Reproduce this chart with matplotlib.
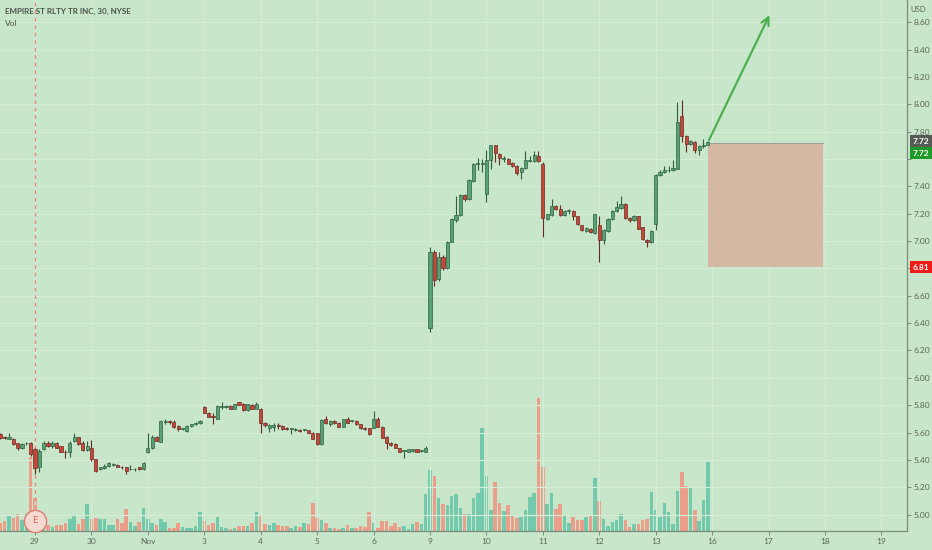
import numpy as np
import matplotlib
matplotlib.use('Agg')
import matplotlib.pyplot as plt
from matplotlib.transforms import blended_transform_factory

###############################################################################
#                                     Data                                    #
###############################################################################

# 30 minute bars, Oct 28 (last 8 bars) .. Nov 13, 13 bars per session
opens = [5.59, 5.565, 5.555, 5.55, 5.52, 5.49, 5.52, 5.52,                                      # Oct 28
         5.48, 5.345, 5.48, 5.525, 5.50, 5.52, 5.50, 5.46, 5.455, 5.535, 5.565, 5.52, 5.47,       # Oct 29
         5.49, 5.405, 5.33, 5.34, 5.355, 5.365, 5.36, 5.35, 5.345, 5.33, 5.33, 5.345, 5.33,       # Oct 30
         5.46, 5.49, 5.568, 5.533, 5.68, 5.68, 5.68, 5.648, 5.625, 5.61, 5.645, 5.66, 5.67,       # Nov 2
         5.783, 5.746, 5.72, 5.702, 5.787, 5.787, 5.795, 5.775, 5.82, 5.807, 5.765, 5.80, 5.775,  # Nov 3
         5.77, 5.673, 5.636, 5.643, 5.655, 5.648, 5.636, 5.624, 5.619, 5.619, 5.619, 5.617, 5.599,  # Nov 4
         5.594, 5.514, 5.702, 5.66, 5.685, 5.668, 5.643, 5.697, 5.685, 5.685, 5.66, 5.636, 5.631,  # Nov 5
         5.636, 5.702, 5.643, 5.57, 5.526, 5.514, 5.485, 5.465, 5.46, 5.465, 5.477, 5.465, 5.46,  # Nov 6
         6.361, 6.923, 6.72, 6.886, 6.801, 6.996, 7.15, 7.192, 7.338, 7.309, 7.438, 7.565, 7.565,  # Nov 9
         7.345, 7.59, 7.70, 7.639, 7.60, 7.602, 7.573, 7.548, 7.504, 7.534, 7.585, 7.585, 7.621,  # Nov 10
         7.56, 7.162, 7.187, 7.253, 7.236, 7.187, 7.218, 7.218, 7.18, 7.118, 7.072, 7.089, 7.057,  # Nov 11
         7.114, 7.009, 7.072, 7.162, 7.223, 7.243, 7.272, 7.167, 7.15, 7.18, 7.101, 7.009, 6.992,  # Nov 12
         7.126, 7.48, 7.504, 7.516, 7.516, 7.529, 7.912, 7.766, 7.707, 7.724, 7.668, 7.692, 7.70]  # Nov 13

highs = [5.60, 5.575, 5.595, 5.56, 5.525, 5.525, 5.53, 5.53,
         5.49, 5.48, 5.535, 5.54, 5.535, 5.53, 5.505, 5.47, 5.54, 5.60, 5.57, 5.54, 5.535,
         5.545, 5.41, 5.35, 5.37, 5.385, 5.38, 5.37, 5.355, 5.35, 5.36, 5.34, 5.35, 5.385,
         5.60, 5.58, 5.575, 5.69, 5.70, 5.695, 5.69, 5.655, 5.635, 5.655, 5.665, 5.675, 5.695,
         5.795, 5.75, 5.74, 5.80, 5.82, 5.80, 5.80, 5.81, 5.825, 5.815, 5.81, 5.81, 5.82,
         5.78, 5.68, 5.66, 5.668, 5.673, 5.655, 5.64, 5.636, 5.63, 5.625, 5.625, 5.62, 5.605,
         5.60, 5.70, 5.72, 5.69, 5.695, 5.675, 5.70, 5.71, 5.695, 5.69, 5.665, 5.64, 5.635,
         5.758, 5.71, 5.65, 5.575, 5.53, 5.52, 5.49, 5.475, 5.475, 5.48, 5.48, 5.475, 5.50,
         6.955, 6.935, 6.918, 6.895, 7.00, 7.17, 7.328, 7.345, 7.345, 7.45, 7.57, 7.607, 7.602,
         7.663, 7.705, 7.705, 7.645, 7.621, 7.61, 7.58, 7.555, 7.54, 7.656, 7.62, 7.656, 7.656,
         7.578, 7.20, 7.309, 7.26, 7.265, 7.225, 7.236, 7.225, 7.185, 7.12, 7.10, 7.095, 7.20,
         7.18, 7.085, 7.17, 7.23, 7.29, 7.326, 7.28, 7.175, 7.19, 7.185, 7.105, 7.015, 7.08,
         7.49, 7.52, 7.545, 7.55, 7.59, 8.017, 8.029, 7.775, 7.74, 7.73, 7.70, 7.748, 7.73]

lows = [5.555, 5.555, 5.55, 5.51, 5.475, 5.48, 5.51, 5.43,
        5.30, 5.31, 5.47, 5.495, 5.49, 5.485, 5.455, 5.415, 5.42, 5.53, 5.51, 5.465, 5.465,
        5.39, 5.31, 5.325, 5.335, 5.35, 5.355, 5.345, 5.335, 5.30, 5.325, 5.32, 5.325, 5.325,
        5.45, 5.48, 5.535, 5.53, 5.665, 5.665, 5.635, 5.61, 5.615, 5.605, 5.64, 5.655, 5.665,
        5.74, 5.71, 5.66, 5.70, 5.77, 5.78, 5.77, 5.77, 5.80, 5.76, 5.76, 5.77, 5.77,
        5.60, 5.64, 5.605, 5.612, 5.624, 5.62, 5.62, 5.587, 5.61, 5.605, 5.61, 5.595, 5.55,
        5.51, 5.51, 5.66, 5.65, 5.66, 5.64, 5.64, 5.67, 5.675, 5.655, 5.625, 5.62, 5.58,
        5.63, 5.64, 5.56, 5.477, 5.50, 5.485, 5.455, 5.416, 5.455, 5.46, 5.455, 5.455, 5.455,
        6.332, 6.674, 6.71, 6.785, 6.795, 6.99, 7.14, 7.185, 7.295, 7.30, 7.43, 7.516, 7.504,
        7.284, 7.53, 7.578, 7.553, 7.577, 7.56, 7.54, 7.48, 7.455, 7.53, 7.58, 7.58, 7.58,
        7.033, 7.15, 7.18, 7.23, 7.18, 7.18, 7.199, 7.15, 7.115, 7.07, 7.065, 7.06, 7.05,
        6.845, 6.98, 7.065, 7.155, 7.215, 7.235, 7.16, 7.14, 7.145, 7.085, 7.01, 6.955, 6.985,
        7.082, 7.475, 7.50, 7.505, 7.51, 7.525, 7.724, 7.65, 7.70, 7.644, 7.627, 7.68, 7.69]

closes = [5.56, 5.56, 5.565, 5.515, 5.49, 5.515, 5.52, 5.44,
          5.34, 5.465, 5.525, 5.50, 5.525, 5.49, 5.46, 5.455, 5.525, 5.565, 5.515, 5.47, 5.50,
          5.405, 5.32, 5.345, 5.355, 5.375, 5.365, 5.35, 5.345, 5.32, 5.33, 5.33, 5.33, 5.38,
          5.49, 5.568, 5.54, 5.685, 5.68, 5.678, 5.64, 5.625, 5.625, 5.648, 5.66, 5.67, 5.685,
          5.746, 5.715, 5.712, 5.795, 5.79, 5.787, 5.775, 5.807, 5.80, 5.765, 5.807, 5.775, 5.807,
          5.668, 5.653, 5.653, 5.653, 5.648, 5.624, 5.624, 5.624, 5.619, 5.612, 5.619, 5.599, 5.551,
          5.519, 5.692, 5.668, 5.685, 5.668, 5.643, 5.697, 5.673, 5.685, 5.66, 5.631, 5.624, 5.587,
          5.697, 5.643, 5.563, 5.521, 5.507, 5.49, 5.458, 5.465, 5.477, 5.477, 5.458, 5.465, 5.49,
          6.923, 6.715, 6.886, 6.801, 6.996, 7.162, 7.192, 7.338, 7.309, 7.443, 7.565, 7.567, 7.567,
          7.59, 7.70, 7.64, 7.607, 7.61, 7.565, 7.548, 7.499, 7.534, 7.59, 7.59, 7.626, 7.585,
          7.17, 7.194, 7.253, 7.236, 7.187, 7.218, 7.218, 7.18, 7.121, 7.077, 7.094, 7.065, 7.199,
          7.004, 7.077, 7.162, 7.223, 7.248, 7.272, 7.167, 7.15, 7.18, 7.089, 7.016, 6.992, 7.072,
          7.48, 7.504, 7.52, 7.52, 7.536, 7.87, 7.766, 7.712, 7.73, 7.663, 7.692, 7.70, 7.724]

# Volume in thousands of shares
volumes = [80, 100, 160, 130, 170, 110, 170, 740,
           330, 130, 80, 60, 40, 60, 60, 80, 120, 150, 70, 120, 270,
           120, 130, 120, 120, 60, 60, 120, 80, 220, 90, 50, 90, 230,
           120, 80, 60, 120, 90, 30, 30, 80, 40, 30, 30, 50, 190,
           100, 60, 80, 140, 40, 30, 20, 30, 50, 50, 50, 80, 190,
           160, 70, 60, 80, 60, 50, 50, 30, 50, 40, 80, 70, 280,
           130, 110, 80, 30, 30, 20, 30, 60, 30, 30, 50, 40, 190,
           80, 30, 100, 100, 50, 80, 40, 50, 20, 70, 90, 70, 370,
           610, 550, 330, 270, 260, 350, 370, 230, 170, 170, 330, 380, 1030,
           550, 210, 490, 280, 200, 260, 150, 130, 140, 210, 340, 380, 1330,
           640, 270, 380, 220, 270, 150, 80, 140, 110, 110, 140, 160, 530,
           300, 120, 50, 90, 110, 170, 110, 40, 70, 70, 110, 120, 390,
           210, 140, 280, 190, 70, 400, 590, 450, 440, 210, 100, 310, 690]

bars_per_day  = 13
first_bar     = -8                                                              # Oct 28 is cut off
day_labels    = ['29', '30', 'Nov', '3', '4', '5', '6', '9', '10', '11', '12', '13',
                 '16', '17', '18', '19']
price_ticks   = np.round(np.arange(5.0, 8.61, 0.2), 2)
hidden_ticks  = [6.8, 7.6]                                                      # Covered by price labels

entry_price   = 7.72                                                            # Drawing on chart
stop_price    = 6.81
target_price  = 8.67

###############################################################################
#                                    Styling                                  #
###############################################################################
bg_color   = '#c8e6c9'
grid_color = '#d5edd6'
axis_color = '#7c8c7c'
text_color = '#5b665b'
up_face, up_edge = '#58a374', '#2f5f40'
dn_face, dn_edge = '#c8463a', '#6a2a22'
vol_up, vol_dn   = '#73c9ab', '#eb9e89'

plt.rcParams['font.family'] = ['Lato', 'DejaVu Sans']

o = np.array(opens); h = np.array(highs); l = np.array(lows); c = np.array(closes)
v = np.array(volumes)
x = np.arange(first_bar, first_bar + len(o))
up = c >= o

fig = plt.figure(figsize=(9.32, 5.5), dpi=100, facecolor=bg_color)
ax  = fig.add_axes([0.0, 19/550, 907/932, 531/550])

###############################################################################
#                                    Volume                                   #
###############################################################################
axv = ax.twinx()
axv.set_zorder(0)
ax.set_zorder(1)
ax.patch.set_visible(False)
axv.set_facecolor(bg_color)
axv.bar(x, v, width=0.82, color=np.where(up, vol_up, vol_dn), linewidth=0)
axv.set_ylim(0, v.max() * 4.0)
axv.set_yticks([])
for s in axv.spines.values():
    s.set_visible(False)

###############################################################################
#                                    Candles                                  #
###############################################################################
day_pos = np.arange(len(day_labels)) * bars_per_day

for yv in price_ticks:
    ax.axhline(yv, color=grid_color, linewidth=0.9, zorder=0)
for xv in day_pos:
    ax.axvline(xv, color=grid_color, linewidth=0.9, zorder=0)

ax.axvline(0, color='#e8877c', linewidth=0.9, linestyle=(0, (3, 3)), zorder=1)  # earnings

ax.vlines(x, l, h, colors=np.where(up, up_edge, dn_edge), linewidth=0.8, zorder=2)
body = np.maximum(np.abs(c - o), 0.006)
ax.bar(x, body, bottom=np.minimum(o, c), width=0.72,
       color=np.where(up, up_face, dn_face),
       edgecolor=np.where(up, up_edge, dn_edge), linewidth=0.5, zorder=3)

# Stop box and target arrow
last_x = x[-1]
ax.fill_between([last_x, last_x + 26.5], stop_price, entry_price, color='#d5b8a2', zorder=2, linewidth=0)
ax.plot([last_x, last_x + 26.5], [entry_price, entry_price], color='#9aa39a', linewidth=0.8, zorder=2)
ax.annotate('', xy=(last_x + 14.5, target_price), xytext=(last_x, entry_price),
            arrowprops=dict(arrowstyle='->', color='#4caf50', lw=1.6, mutation_scale=14), zorder=4)

# Earnings marker
trans = blended_transform_factory(ax.transData, ax.transAxes)
ax.plot([0], [0.019], marker='o', markersize=16, markerfacecolor='#f3d9d0',
        markeredgecolor='#e07c70', markeredgewidth=1.0, transform=trans, zorder=5, clip_on=False)
ax.text(0, 0.019, 'E', transform=trans, ha='center', va='center', fontsize=7,
        color='#d9685c', zorder=6)

###############################################################################
#                                     Axes                                    #
###############################################################################
ax.set_xlim(-8.065, 200.9)
ax.set_ylim(4.88, 8.762)

ax.yaxis.tick_right()
ax.set_yticks(price_ticks)
ax.set_yticklabels(['' if p in hidden_ticks else f'{p:.2f}' for p in price_ticks])
ax.tick_params(axis='y', length=3, width=0.7, color=axis_color, labelsize=6,
               labelcolor=text_color, pad=2)
ax.set_xticks(day_pos)
ax.set_xticklabels(day_labels)
ax.tick_params(axis='x', length=3, width=0.7, color=axis_color, labelsize=6,
               labelcolor=text_color, pad=2)

for side in ['top', 'left']:
    ax.spines[side].set_visible(False)
ax.spines['right'].set_color(axis_color)
ax.spines['bottom'].set_color(axis_color)
ax.spines['right'].set_linewidth(0.9)
ax.spines['bottom'].set_linewidth(0.9)

# Price labels on right scale
ytrans = blended_transform_factory(ax.transAxes, ax.transData)
label_kw = dict(xycoords=ytrans, textcoords='offset points', va='center', ha='left',
                fontsize=6, color='white', fontweight='bold', annotation_clip=False, zorder=10)
ax.annotate(f'{entry_price:.2f}', xy=(1.0, entry_price), xytext=(4, 1),
            bbox=dict(boxstyle='square,pad=0.3', fc='#555b55', ec='none'), **label_kw)
ax.annotate(f'{closes[-1]:.2f}', xy=(1.0, closes[-1]), xytext=(4, -8),
            bbox=dict(boxstyle='square,pad=0.3', fc='#1f9a2a', ec='none'), **label_kw)
ax.annotate(f'{stop_price:.2f}', xy=(1.0, stop_price), xytext=(4, 0),
            bbox=dict(boxstyle='square,pad=0.3', fc='#f01b1b', ec='none'), **label_kw)

# Header
fig.text(5/932, 1 - 11/550, 'EMPIRE ST RLTY TR INC, 30, NYSE', fontsize=5.8, fontweight='bold',
         color='#4b544b', va='center', ha='left')
fig.text(5/932, 1 - 23/550, 'Vol', fontsize=6, color='#4b544b', va='center', ha='left')
fig.text(918/932, 1 - 10/550, 'USD', fontsize=5.5, color=text_color, va='center', ha='center')

fig.savefig('out.png', dpi=100, facecolor=bg_color)
